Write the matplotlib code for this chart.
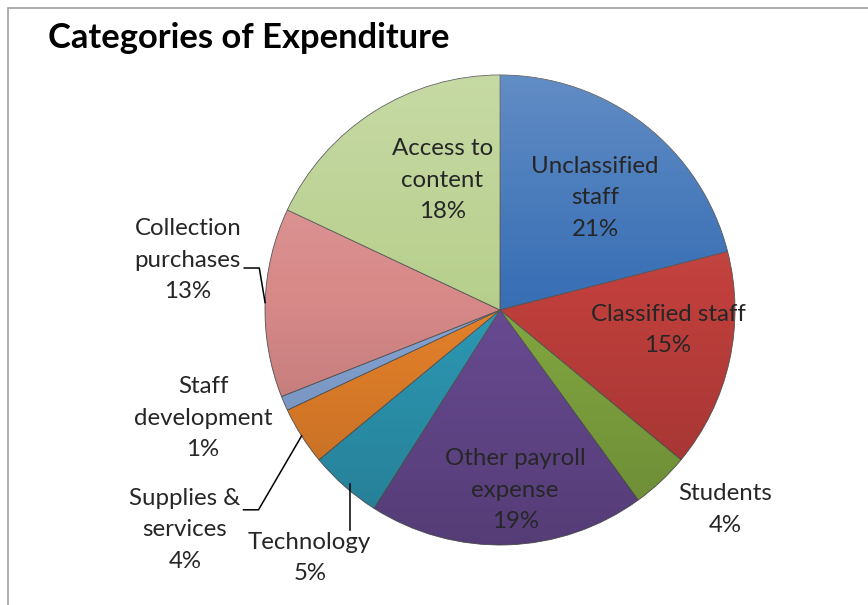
import numpy as np
import matplotlib.pyplot as plt
from matplotlib.patches import Rectangle, Circle

# data
categories = ['Unclassified\nstaff', 'Classified staff', 'Students',
              'Other payroll\nexpense', 'Technology', 'Supplies &\nservices',
              'Staff\ndevelopment', 'Collection\npurchases', 'Access to\ncontent']
shares = [21, 15, 4, 19, 5, 4, 1, 13, 18]
pct_labels = ['21%', '15%', '4%', '19%', '5%', '4%', '1%', '13%', '18%']

colors = ['#3a70b6', '#c03f3c', '#84a941', '#694b93', '#2e9ab6',
          '#e8832b', '#86a6d6', '#d88a89', '#b8d08e']
# label placement: distance from centre (in radii), angle tweak (deg), leader style
lab_r = [0.625, 0.72, 1.28, 0.77, 1.33, 1.635, 1.345, 1.345, 0.605]
lab_dang = [-2.5, 5.8, 5.2, 3.0, 3.9, 2.5, -3.4, -7.3, -8.4]
leader = [None, None, None, None, 'vertical', 'elbow', None, 'elbow', None]
leader_line = [0, 0, 0, 0, 0, 0, 0, 1, 0]   # which text line the elbow hooks onto

W, H = 868, 605
fig = plt.figure(figsize=(W / 100, H / 100), dpi=100)
ax = fig.add_axes([0, 0, 1, 1])
cx, cy, R = 500, 295, 235

wedges, _ = ax.pie(shares, colors=colors, startangle=90, counterclock=False,
                   center=(cx, cy), radius=R, frame=True,
                   wedgeprops=dict(edgecolor='#555555', linewidth=0.6))
ax.set_xlim(0, W)
ax.set_ylim(0, H)
ax.set_aspect('equal')
ax.axis('off')

# soft shading like the office bevel look
grad = np.linspace(0, 1, 256)
shade = np.zeros((256, 1, 4))
shade[:, 0, :3] = np.where(grad[:, None] < 0.45, 1.0, 0.0)
shade[:, 0, 3] = np.where(grad < 0.45, (0.45 - grad) * 0.45, (grad - 0.45) * 0.35)
img = ax.imshow(shade, extent=(cx - R, cx + R, cy - R, cy + R), aspect='auto',
                origin='upper', zorder=3, interpolation='bilinear')
img.set_clip_path(Circle((cx, cy), R, transform=ax.transData))
ax.set_xlim(0, W)
ax.set_ylim(0, H)

fnt = ['Lato', 'DejaVu Sans']
txts = []
for i, w in enumerate(wedges):
    mid = (w.theta1 + w.theta2) / 2
    a = np.deg2rad(mid + lab_dang[i])
    x = cx + R * lab_r[i] * np.cos(a)
    y = cy + R * lab_r[i] * np.sin(a)
    t = ax.text(x, y, categories[i] + '\n' + pct_labels[i], ha='center', va='center',
                fontsize=17.3, family=fnt, color='#262626', linespacing=1.62, zorder=5)
    txts.append(t)

fig.canvas.draw()
rend = fig.canvas.get_renderer()
inv = ax.transData.inverted()
for i, w in enumerate(wedges):
    if leader[i] is None:
        continue
    mid = np.deg2rad((w.theta1 + w.theta2) / 2)
    ex = cx + R * np.cos(mid)
    ey = cy + R * np.sin(mid)
    bb = txts[i].get_window_extent(rend).transformed(inv)
    if leader[i] == 'elbow':
        # hook onto the bottom of the chosen text line
        h = bb.y1 - bb.y0
        ty = bb.y1 - h * (2 * leader_line[i] + 1) / 6 - 8
        lx = bb.x1 + 3
        ax.plot([lx, lx + 15, ex], [ty, ty, ey], color='black', lw=1.1, zorder=4)
    else:
        ax.plot([ex + 5, ex + 5], [ey + 2, bb.y1 + 2], color='black', lw=1.1, zorder=4)

ax.text(48, H - 38, 'Categories of Expenditure', ha='left', va='center',
        fontsize=24.8, fontweight='bold', family=fnt, color='black')

fig.patches.append(Rectangle((8 / W, -0.1), 1.2, (H - 8) / H + 0.1, transform=fig.transFigure,
                             fill=False, edgecolor='#a0a0a0', linewidth=1.2))

fig.savefig('out.png', dpi=100)
